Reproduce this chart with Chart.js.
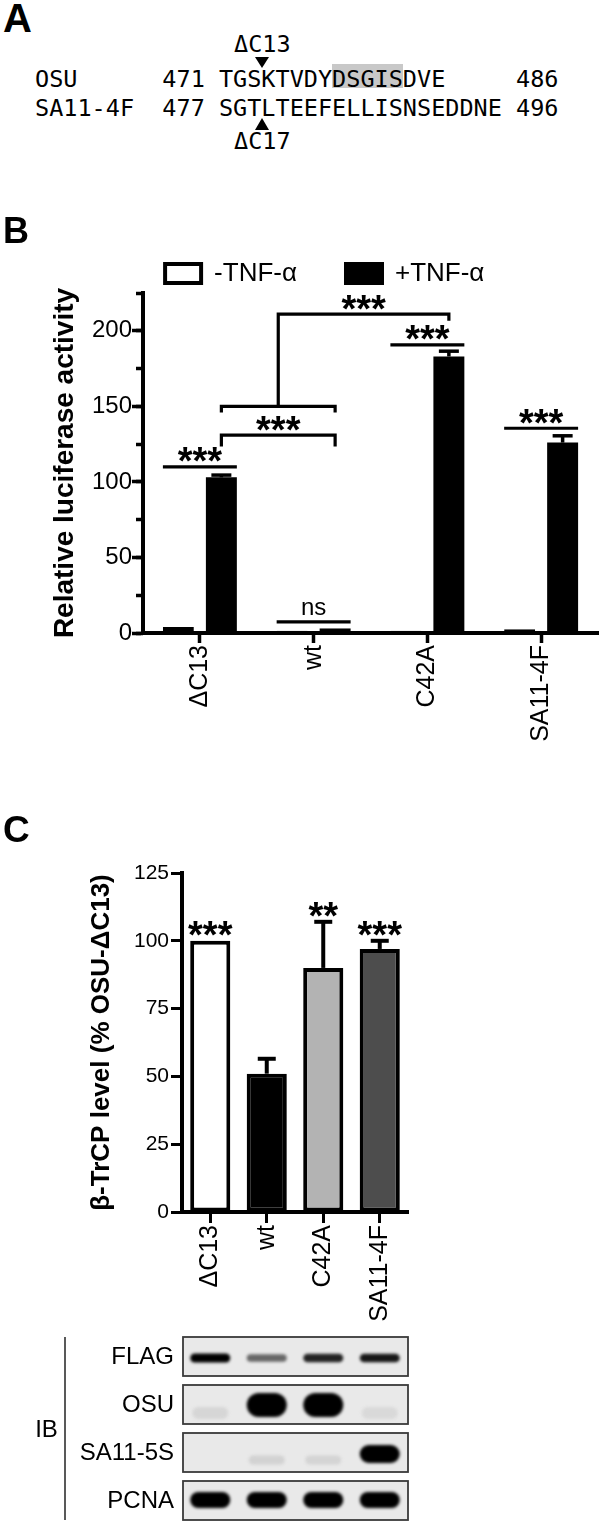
<!DOCTYPE html>
<html><head><meta charset="utf-8">
<script src="https://cdn.jsdelivr.net/npm/chart.js@4.4.1/dist/chart.umd.min.js"></script>
<style>
html,body{margin:0;padding:0;background:#fff;}
#page{position:relative;width:600px;height:1524px;overflow:hidden;background:#fff;}
.abs{position:absolute;}
.letter{position:absolute;left:3px;font-family:"Liberation Sans",Arial,sans-serif;font-weight:bold;line-height:1;color:#000;z-index:2;}
.mono{position:absolute;font-family:"DejaVu Sans Mono",monospace;font-size:23.5px;line-height:23.5px;white-space:pre;color:#000;z-index:2;}
canvas{position:absolute;left:0;}
</style></head>
<body><div id="page">
<div class="letter" style="top:-2px;font-size:40px">A</div>
<div class="abs" style="left:332px;top:64px;width:71px;height:24px;background:#c8c8c8;z-index:1"></div>
<div class="mono" style="left:234px;top:33px">ΔC13</div>
<div class="abs" style="left:254.5px;top:57px;width:0;height:0;border-left:7.5px solid transparent;border-right:7.5px solid transparent;border-top:11px solid #000"></div>
<div class="mono" style="left:35px;top:68px">OSU      471 TGSKTVDYDSGISDVE     486</div>
<div class="mono" style="left:35px;top:97px">SA11-4F  477 SGTLTEEFELLISNSEDDNE 496</div>
<div class="abs" style="left:254.5px;top:118px;width:0;height:0;border-left:7.5px solid transparent;border-right:7.5px solid transparent;border-bottom:12px solid #000"></div>
<div class="mono" style="left:234px;top:130px">ΔC17</div>
<div class="letter" style="top:212.5px;font-size:36px">B</div>
<canvas id="chartB" width="600" height="560" style="top:200px"></canvas>
<div class="letter" style="top:810.7px;font-size:37px">C</div>
<canvas id="chartC" width="600" height="734" style="top:790px"></canvas>
</div>
<script>
// ---------- data ----------
const categories = ['ΔC13', 'wt', 'C42A', 'SA11-4F'];
// Panel B: relative luciferase activity
const lucMinusTNF = [4, 1.5, 1.5, 2.5];
const lucMinusTNFErr = [0.3, 0.2, 0.2, 0.3];
const lucPlusTNF = [103, 3, 183, 126];
const lucPlusTNFErr = [1.5, 0.5, 3.5, 4.5];
const yTickLabelsB = [0, 50, 100, 150, 200];
const lucSig = ['***', 'ns', '***', '***'];
const lucSigLevel = [110, 7.3, 190.7, 135.5];
const bracketLow = [131, 123.5];            // level, leg end
const bracketHigh = [150, 146, 211, 206.6]; // level, leg end, upper level, upper leg end
// Panel C: beta-TrCP level
const trcpLevel = [100, 51, 90, 97];
const trcpErr = [0, 5.5, 17, 3];
const trcpSig = ['***', '', '**', '***'];
const yTickLabelsC = [0, 25, 50, 75, 100, 125];
// Immunoblot band intensities (0..1) per lane
const blotRows = ['FLAG', 'OSU', 'SA11-5S', 'PCNA'];
const blotFLAG = [1.0, 0.55, 0.85, 0.9];
const blotOSU = [0.06, 1.0, 1.0, 0.05];
const blotSA115S = [0.0, 0.08, 0.07, 1.0];
const blotPCNA = [1.0, 1.0, 1.0, 1.0];

// ---------- styles ----------
const FAM = '"Liberation Sans", Arial, Helvetica, sans-serif';
const STARFONT = 'bold 38px ' + FAM;
Chart.defaults.font.family = FAM;
Chart.defaults.color = '#000';

function seg(ctx, x1, y1, x2, y2) { ctx.beginPath(); ctx.moveTo(x1, y1); ctx.lineTo(x2, y2); ctx.stroke(); }
function poly(ctx, pts) { ctx.beginPath(); ctx.moveTo(pts[0][0], pts[0][1]); for (let i = 1; i < pts.length; i++) ctx.lineTo(pts[i][0], pts[i][1]); ctx.stroke(); }
function inkText(ctx, txt, cx, inkBottom, font) {
  ctx.font = font; ctx.textAlign = 'center'; ctx.textBaseline = 'alphabetic';
  const m = ctx.measureText(txt);
  ctx.fillText(txt, cx, inkBottom - m.actualBoundingBoxDescent);
}

const annotB = {
  id: 'annotB',
  afterDatasetsDraw(chart) {
    const ctx = chart.ctx, ys = chart.scales.y;
    const P = v => ys.getPixelForValue(v);
    const m0 = chart.getDatasetMeta(0).data, m1 = chart.getDatasetMeta(1).data;
    ctx.save();
    ctx.strokeStyle = '#000'; ctx.fillStyle = '#000'; ctx.lineCap = 'butt'; ctx.lineJoin = 'miter';
    ctx.lineWidth = 3.5;
    [[m0, lucMinusTNF, lucMinusTNFErr], [m1, lucPlusTNF, lucPlusTNFErr]].forEach(([meta, vals, errs]) => {
      meta.forEach((bar, i) => {
        const yt = P(vals[i]), ye = P(vals[i] + errs[i]);
        if (yt - ye < 2) return;
        seg(ctx, bar.x, yt, bar.x, ye);
        seg(ctx, bar.x - 10, ye, bar.x + 10, ye);
      });
    });
    ctx.lineWidth = 3.2;
    lucSig.forEach((s, i) => {
      const x1 = m0[i].x - m0[i].width / 2, x2 = m1[i].x + m1[i].width / 2, yy = P(lucSigLevel[i]);
      seg(ctx, x1, yy, x2, yy);
      if (s === 'ns') inkText(ctx, s, (x1 + x2) / 2, yy - 7, '24px ' + FAM);
      else inkText(ctx, s, (x1 + x2) / 2, yy - 4.5, STARFONT);
    });
    const xa = m1[0].x, xb = m1[1].x, xc = m1[2].x, xm = (xa + xb) / 2;
    poly(ctx, [[xa, P(bracketLow[1])], [xa, P(bracketLow[0])], [xb, P(bracketLow[0])], [xb, P(bracketLow[1])]]);
    inkText(ctx, '***', xm, P(bracketLow[0]) - 4.5, STARFONT);
    poly(ctx, [[xa, P(bracketHigh[1])], [xa, P(bracketHigh[0])], [xb, P(bracketHigh[0])], [xb, P(bracketHigh[1])]]);
    poly(ctx, [[xm, P(bracketHigh[0])], [xm, P(bracketHigh[2])], [xc, P(bracketHigh[2])], [xc, P(bracketHigh[3])]]);
    inkText(ctx, '***', (xm + xc) / 2, P(bracketHigh[2]) - 4.5, STARFONT);
    ctx.restore();
  }
};

new Chart(document.getElementById('chartB'), {
  type: 'bar',
  data: {
    labels: categories,
    datasets: [
      { label: '-TNF-α', data: lucMinusTNF, backgroundColor: '#ffffff', borderColor: '#000', borderWidth: 4, borderSkipped: false },
      { label: '+TNF-α', data: lucPlusTNF, backgroundColor: '#000000', borderColor: '#000', borderWidth: 0 }
    ]
  },
  options: {
    responsive: false, animation: false, events: [],
    datasets: { bar: { categoryPercentage: 0.756, barPercentage: 0.72 } },
    layout: { padding: { left: 51.5, right: 2, top: 11.5, bottom: 2 } },
    plugins: {
      tooltip: { enabled: false },
      legend: {
        display: true, position: 'top', align: 'center', maxHeight: 81.5,
        labels: {
          boxWidth: 36, boxHeight: 19, padding: 49, color: '#000', font: { size: 26, family: FAM },
          generateLabels: chart => Chart.defaults.plugins.legend.labels.generateLabels(chart)
            .map(l => Object.assign(l, { lineWidth: 4, strokeStyle: '#000' }))
        }
      }
    },
    scales: {
      x: {
        offset: true,
        grid: { offset: false, drawOnChartArea: false, tickLength: 10, tickWidth: 3.5, tickColor: '#000' },
        border: { display: true, width: 4, color: '#000' },
        ticks: { minRotation: 90, maxRotation: 90, autoSkip: false, padding: 2, color: '#000', font: { size: 25, family: FAM } },
        afterFit(s) { s.height = 125; }
      },
      y: {
        position: 'left', weight: 1, min: 0, max: 225,
        ticks: { stepSize: 50, includeBounds: false, padding: 0, color: '#000', font: { size: 24, family: FAM },
                 callback: v => yTickLabelsB.includes(v) ? String(v) : '' },
        grid: { drawOnChartArea: false, tickLength: 11, tickWidth: 3.5, tickColor: '#000' },
        border: { display: true, width: 4, color: '#000' },
        title: { display: true, text: 'Relative luciferase activity', color: '#000', font: { size: 28, weight: 'bold', family: FAM }, padding: { top: -3, bottom: 0 } },
        afterFit(s) { s.width = 91.5; }
      },
      yMinor: {
        position: 'left', weight: 0, min: 0, max: 225,
        ticks: { stepSize: 25, display: false },
        grid: { drawOnChartArea: false, tickLength: 7, tickWidth: 3.5, tickColor: '#000' },
        border: { display: false },
        afterFit(s) { s.width = 0; }
      }
    }
  },
  plugins: [annotB]
});

// ---------- Panel C ----------
const CANVAS_C_TOP = 790;
const rowTopsPage = [1337, 1385, 1433, 1481];
const ROW_H = 39;
const bandCenterOff = [21, 20, 21, 19];
const bandThick = [9, 24, 18, 16];
const BAND_W = 40;

const annotC = {
  id: 'annotC',
  afterDatasetsDraw(chart) {
    const ctx = chart.ctx, ys = chart.scales.y;
    const meta = chart.getDatasetMeta(0).data;
    ctx.save();
    ctx.strokeStyle = '#000'; ctx.fillStyle = '#000'; ctx.lineWidth = 4; ctx.lineCap = 'butt';
    meta.forEach((bar, i) => {
      const yt = ys.getPixelForValue(trcpLevel[i]);
      let top = yt;
      if (trcpErr[i] > 0) {
        const ye = ys.getPixelForValue(trcpLevel[i] + trcpErr[i]);
        seg(ctx, bar.x, yt, bar.x, ye);
        seg(ctx, bar.x - 9, ye, bar.x + 9, ye);
        top = ye;
      }
      if (trcpSig[i]) inkText(ctx, trcpSig[i], bar.x, top - 5, STARFONT);
    });
    ctx.restore();
  },
  afterDraw(chart) {
    const ctx = chart.ctx, xs = chart.scales.x, area = chart.chartArea;
    const rowsData = [blotFLAG, blotOSU, blotSA115S, blotPCNA];
    const left = area.left + 1, right = area.right;
    ctx.save();
    const yTop = rowTopsPage[0] - CANVAS_C_TOP, yBot = rowTopsPage[3] + ROW_H - CANVAS_C_TOP;
    ctx.strokeStyle = '#222'; ctx.lineWidth = 1.5;
    seg(ctx, 65, yTop, 65, yBot);
    ctx.fillStyle = '#000'; ctx.font = '24px ' + FAM; ctx.textAlign = 'center'; ctx.textBaseline = 'middle';
    ctx.fillText('IB', 46.5, 1430 - CANVAS_C_TOP);
    blotRows.forEach((name, r) => {
      const top = rowTopsPage[r] - CANVAS_C_TOP;
      ctx.fillStyle = '#000'; ctx.font = '24px ' + FAM; ctx.textAlign = 'right'; ctx.textBaseline = 'middle';
      ctx.fillText(name, 174, top + ROW_H / 2 + 1);
      ctx.fillStyle = '#e9e9e9';
      ctx.fillRect(left, top, right - left, ROW_H);
      ctx.save();
      ctx.beginPath(); ctx.rect(left, top, right - left, ROW_H); ctx.clip();
      ctx.filter = 'blur(1.6px)';
      rowsData[r].forEach((a, i) => {
        if (a <= 0) return;
        const x = xs.getPixelForValue(i);
        const t = bandThick[r] * (a < 0.3 ? 0.5 : (0.65 + 0.35 * a));
        const w = BAND_W * (a < 0.3 ? 0.9 : 1);
        const g = Math.round(228 - 228 * a);
        ctx.fillStyle = 'rgb(' + g + ',' + g + ',' + g + ')';
        const cy = top + bandCenterOff[r] + (a < 0.3 && r === 1 ? 8 : 0) + (a < 0.3 && r === 2 ? 6 : 0);
        ctx.beginPath();
        ctx.roundRect(x - w / 2, cy - t / 2, w, t, t / 2);
        ctx.fill();
      });
      ctx.restore();
      ctx.strokeStyle = '#3a3a3a'; ctx.lineWidth = 1.8;
      ctx.strokeRect(left, top, right - left, ROW_H);
    });
    ctx.restore();
  }
};

new Chart(document.getElementById('chartC'), {
  type: 'bar',
  data: {
    labels: categories,
    datasets: [{
      label: 'β-TrCP level', data: trcpLevel,
      backgroundColor: ['#ffffff', '#000000', '#b3b3b3', '#4d4d4d'],
      borderColor: '#000', borderWidth: 4, borderSkipped: false,
      categoryPercentage: 1, barPercentage: 0.71
    }]
  },
  options: {
    responsive: false, animation: false, events: [],
    layout: { padding: { left: 85, right: 192, top: 83, bottom: 194 } },
    plugins: { legend: { display: false }, tooltip: { enabled: false } },
    scales: {
      x: {
        offset: true,
        grid: { offset: false, drawOnChartArea: false, tickLength: 11, tickWidth: 3, tickColor: '#000' },
        border: { display: true, width: 4, color: '#000' },
        ticks: { minRotation: 90, maxRotation: 90, autoSkip: false, padding: 2, color: '#000', font: { size: 25, family: FAM } },
        afterFit(s) { s.height = 118; }
      },
      y: {
        min: 0, max: 125,
        ticks: { stepSize: 25, padding: 2, color: '#000', font: { size: 21, family: FAM },
                 callback: v => yTickLabelsC.includes(v) ? String(v) : '' },
        grid: { drawOnChartArea: false, tickLength: 11, tickWidth: 3, tickColor: '#000' },
        border: { display: true, width: 4, color: '#000' },
        title: { display: true, text: 'β-TrCP level (% OSU-ΔC13)', color: '#000', font: { size: 26, weight: 'bold', family: FAM }, padding: { top: 1, bottom: 0 } },
        afterFit(s) { s.width = 97; }
      }
    }
  },
  plugins: [annotC]
});
</script>
</body></html>
